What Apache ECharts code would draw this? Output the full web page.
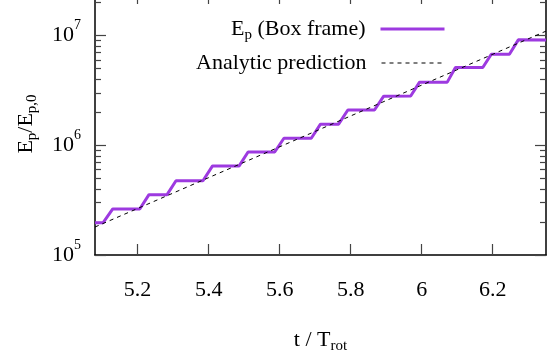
<!DOCTYPE html>
<html>
<head>
<meta charset="utf-8">
<script src="https://cdn.jsdelivr.net/npm/echarts@6/dist/echarts.min.js"></script>
<style>
  html, body { margin: 0; padding: 0; background: #fff; }
  #chart { width: 547px; height: 353px; }
</style>
</head>
<body>
<div id="chart"></div>
<script>
// E_p in the box frame (staircase)
const tBox = [5.08, 5.103, 5.130, 5.206, 5.232, 5.283, 5.308, 5.384, 5.411, 5.486,
  5.511, 5.586, 5.612, 5.689, 5.715, 5.766, 5.792, 5.867, 5.893, 5.969,
  5.994, 6.072, 6.095, 6.172, 6.196, 6.247, 6.272, 6.35];
const eBox = [1.97e5, 1.97e5, 2.63e5, 2.63e5, 3.55e5, 3.55e5, 4.75e5, 4.75e5, 6.49e5, 6.49e5,
  8.7e5, 8.7e5, 1.16e6, 1.16e6, 1.56e6, 1.56e6, 2.10e6, 2.10e6, 2.81e6, 2.82e6,
  3.77e6, 3.77e6, 5.12e6, 5.12e6, 6.78e6, 6.78e6, 9.16e6, 9.14e6];
// analytic prediction (straight line in log-y)
const tPred = [5.08, 6.35];
const ePred = [1.8e5, 1.1e7];

const xMin = 5.08, xMax = 6.35;
const xTicks = [5.2, 5.4, 5.6, 5.8, 6, 6.2];
const yMin = 1e5, yMax = 2.45e7;
const yMinor = [2e5, 3e5, 4e5, 5e5, 6e5, 7e5, 8e5, 9e5,
  2e6, 3e6, 4e6, 5e6, 6e6, 7e6, 8e6, 9e6, 2e7];

const FONT = "'Liberation Serif', 'DejaVu Serif', serif";
const PURPLE = "#9d3ae0";

const rich = {
  n: { fontFamily: FONT, fontSize: 22, color: "#000", verticalAlign: "middle" },
  sub: { fontFamily: FONT, fontSize: 15, color: "#000", verticalAlign: "middle", padding: [12, 0, 0, 0] },
  sup: { fontFamily: FONT, fontSize: 14, color: "#000", verticalAlign: "middle", padding: [0, 0, 20, 0] },
};

const chart = echarts.init(document.getElementById("chart"));

// log axis for data + major ticks
const logAxis = (pos, withLabels) => ({
  type: "log",
  logBase: 10,
  position: pos,
  min: yMin,
  max: yMax,
  axisLine: { show: true, lineStyle: { color: "#000", width: 1.5 } },
  axisTick: { show: true, inside: true, length: 11, lineStyle: { color: "#444", width: 1.2 } },
  axisLabel: withLabels
    ? {
        show: true,
        margin: 14,
        showMaxLabel: false,
        formatter: (v) => "{n|10}{sup|" + Math.round(Math.log10(v)) + "}",
        rich: rich,
      }
    : { show: false },
  splitLine: { show: false },
});

// minor ticks at 2..9 x 10^n, placed on a linear axis in log10 units
const minorAxis = (pos) => ({
  type: "value",
  position: pos,
  min: Math.log10(yMin),
  max: Math.log10(yMax),
  axisLine: { show: false },
  axisTick: {
    show: true,
    inside: true,
    length: 6,
    customValues: yMinor.map((v) => Math.log10(v)),
    lineStyle: { color: "#444", width: 1.2 },
  },
  axisLabel: { show: false },
  splitLine: { show: false },
});

const xAxis = (pos, withLabels) => ({
  type: "value",
  position: pos,
  min: xMin,
  max: xMax,
  axisLine: { show: true, lineStyle: { color: "#000", width: 1.5 } },
  axisTick: { show: true, inside: true, length: 11, customValues: xTicks, lineStyle: { color: "#444", width: 1.2 } },
  axisLabel: withLabels
    ? { show: true, margin: 24, customValues: xTicks, fontFamily: FONT, fontSize: 22, color: "#000" }
    : { show: false },
  splitLine: { show: false },
});

const leftY = logAxis("left", true);
leftY.name = "{n|E}{sub|p}{n|/E}{sub|p,0}";
leftY.nameLocation = "middle";
leftY.nameGap = 55;
leftY.nameTextStyle = { fontFamily: FONT, fontSize: 22, color: "#000", rich: rich };

const bottomX = xAxis("bottom", true);
bottomX.name = "{n|t / T}{sub|rot}";
bottomX.nameLocation = "middle";
bottomX.nameGap = 72;
bottomX.nameTextStyle = { fontFamily: FONT, fontSize: 22, color: "#000", rich: rich };

const legendBase = {
  orient: "vertical",
  right: 101,
  padding: 0,
  align: "right",
  itemWidth: 64,
  itemHeight: 14,
  selectedMode: false,
  itemStyle: { opacity: 0 }, // hide the circle marker, keep the line
  textStyle: { fontFamily: FONT, fontSize: 22, color: "#000", padding: [0, 10, 0, 0], rich: rich },
};

chart.setOption({
  animation: false,
  backgroundColor: "#fff",
  grid: { left: 95, right: 1, top: -7, bottom: 98, containLabel: false, outerBoundsMode: "none" },
  legend: [
    Object.assign({}, legendBase, {
      top: 18,
      data: ["Ep"],
      lineStyle: { width: 3 },
      formatter: () => "{n|E}{sub|p}{n| (Box frame)}",
    }),
    Object.assign({}, legendBase, {
      top: 52,
      data: ["Analytic prediction"],
      lineStyle: { width: 1 },
      formatter: () => "{n|Analytic prediction}",
    }),
  ],
  xAxis: [bottomX, xAxis("top", false)],
  yAxis: [leftY, logAxis("right", false), minorAxis("left"), minorAxis("right")],
  series: [
    {
      name: "Ep",
      type: "line",
      xAxisIndex: 0,
      yAxisIndex: 0,
      symbol: "none",
      data: tBox.map((t, i) => [t, eBox[i]]),
      lineStyle: { color: PURPLE, width: 3 },
      itemStyle: { color: PURPLE },
      z: 2,
    },
    {
      name: "Analytic prediction",
      type: "line",
      xAxisIndex: 0,
      yAxisIndex: 0,
      symbol: "none",
      data: tPred.map((t, i) => [t, ePred[i]]),
      lineStyle: { color: "#000", width: 1, type: [4, 4] },
      itemStyle: { color: "#000" },
      z: 3,
    },
  ],
});
</script>
</body>
</html>
